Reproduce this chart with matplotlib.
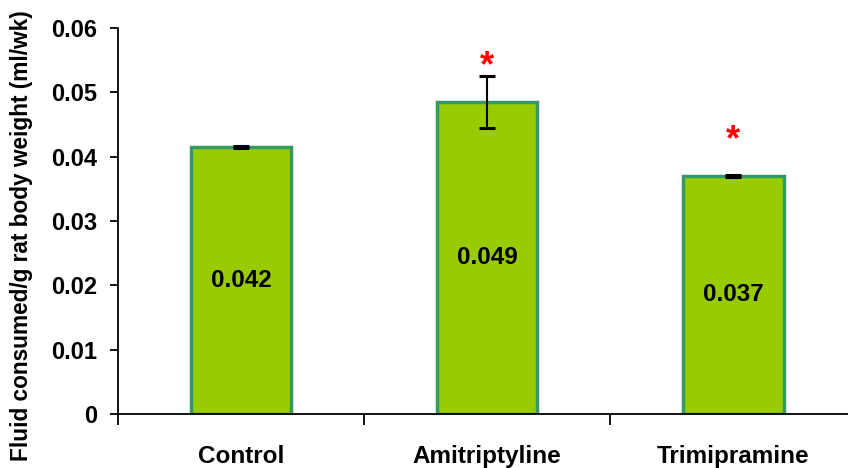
import matplotlib
matplotlib.use("Agg")
import matplotlib.pyplot as plt
import numpy as np

categories = ["Control", "Amitriptyline", "Trimipramine"]
values = [0.0415, 0.0485, 0.0370]
errors = [0.0001, 0.0041, 0.0001]
value_labels = ["0.042", "0.049", "0.037"]
significant = [False, True, True]
yticks = [0, 0.01, 0.02, 0.03, 0.04, 0.05, 0.06]
ytick_labels = ["0", "0.01", "0.02", "0.03", "0.04", "0.05", "0.06"]

plt.rcParams['font.family'] = ['Liberation Sans', 'DejaVu Sans']
plt.rcParams['font.weight'] = 'bold'

fig = plt.figure(figsize=(8.48, 4.68), dpi=100)
ax = fig.add_axes([118/848, 54/468, 1 - 118/848, (414-28)/468])

x = np.arange(len(categories))
ax.bar(x, values, width=0.41, color="#99CC00", edgecolor="#339966", linewidth=2.5, zorder=2)
ax.errorbar(x, values, yerr=errors, fmt="none", ecolor="black", elinewidth=1.5,
            capsize=5.5, capthick=2.2, zorder=3)

for xi, v, lab in zip(x, values, value_labels):
    ax.text(xi, v / 2, lab, ha="center", va="center", fontsize=17.5, fontweight="bold", zorder=4)

for xi, v, s in zip(x, values, significant):
    if s:
        ax.text(xi, v + 0.0027, "*", ha="center", va="bottom", color="red",
                fontsize=26, fontweight="bold", zorder=4)

ax.set_xlim(-0.5, 2.467)
ax.set_ylim(0, 0.06)
ax.set_yticks(yticks)
ax.set_yticklabels(ytick_labels, fontsize=17, fontweight="bold")
ax.set_xticks(x)
ax.set_xticklabels(categories, fontsize=17.5, fontweight="bold")
ax.set_xticks([-0.5, 0.5, 1.5], minor=True)
ax.tick_params(axis="x", which="major", length=0, pad=22)
ax.tick_params(axis="x", which="minor", length=8, width=1.3, direction="out")
ax.tick_params(axis="y", which="major", length=6, width=1.3, direction="out", pad=9)
for sp in ["top", "right"]:
    ax.spines[sp].set_visible(False)
for sp in ["left", "bottom"]:
    ax.spines[sp].set_linewidth(1.3)

fig.text(22/848, 1 - 236/468, "Fluid consumed/g rat body weight (ml/wk)", rotation=90,
         ha="center", va="center", fontsize=16.3, fontweight="bold")

fig.savefig("out.png", dpi=100)
